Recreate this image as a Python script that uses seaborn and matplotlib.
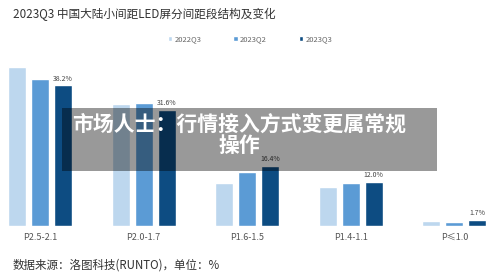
import matplotlib
matplotlib.use("Agg")
import matplotlib.pyplot as plt
import seaborn as sns
import pandas as pd
from matplotlib.patches import Rectangle

categories = ["P2.5-2.1", "P2.0-1.7", "P1.6-1.5", "P1.4-1.1", "P≤1.0"]
series_names = ["2022Q3", "2023Q2", "2023Q3"]
v_2022q3 = [43.2, 33.2, 11.8, 10.7, 1.4]
v_2023q2 = [40.0, 33.5, 14.6, 11.6, 1.0]
v_2023q3 = [38.2, 31.6, 16.4, 12.0, 1.7]
labels_2023q3 = ["38.2%", "31.6%", "16.4%", "12.0%", "1.7%"]

title = "2023Q3 中国大陆小间距LED屏分间距段结构及变化"
source = "数据来源：洛图科技(RUNTO)，单位：%"
banner = "市场人士：行情接入方式变更属常规\n操作"

df = pd.DataFrame({
    "cat": categories * 3,
    "series": [s for s in series_names for _ in categories],
    "val": v_2022q3 + v_2023q2 + v_2023q3,
})

sns.set_theme(style="white")
plt.rcParams["font.family"] = ["Noto Sans CJK SC", "DejaVu Sans"]

palette = {"2022Q3": "#bdd7ee", "2023Q2": "#5b9bd5", "2023Q3": "#0d4c82"}

fig = plt.figure(figsize=(5, 2.8), dpi=100)
ax = fig.add_axes([0, (280 - 226) / 280, 1, 170 / 280])
sns.barplot(data=df, x="cat", y="val", hue="series", palette=palette,
            width=0.666, gap=0.217, ax=ax, saturation=1, legend=True)
ax.set_xlim(-40 / 103.6, 460 / 103.6)
ax.set_ylim(0, 46.2)
for s in ax.spines.values():
    s.set_visible(False)
ax.set_yticks([])
ax.set_xlabel("")
ax.set_ylabel("")
ax.tick_params(axis="x", length=0, pad=5, labelsize=6.5, labelcolor="#555555")

# value labels on 2023Q3 bars
dark = ax.containers[2]
ax.bar_label(dark, labels=labels_2023q3, padding=2, fontsize=5, color="#444444")

handles, lbls = ax.get_legend_handles_labels()
ax.legend(handles, lbls, ncol=3, frameon=False, loc="center",
          bbox_to_anchor=(250 / 500, 1 - 39 / 280), bbox_transform=fig.transFigure,
          fontsize=5.5, handlelength=0.55, handleheight=0.55, handletextpad=0.3,
          columnspacing=4.2, labelcolor="#666666")

fig.text(13 / 500, 1 - 14 / 280, title, fontsize=8.4, color="#333333", va="center", ha="left")
fig.text(13 / 500, 1 - 265 / 280, source, fontsize=8.3, color="#333333", va="center", ha="left")

fig.patches.append(Rectangle((62 / 500, (280 - 171) / 280), 375 / 500, 63 / 280,
                             transform=fig.transFigure, facecolor="#000000",
                             alpha=0.4, edgecolor="none", zorder=5))
fig.text(239 / 500, 1 - 134.5 / 280, banner, fontsize=15, fontweight="bold",
         color="white", ha="center", va="center", linespacing=1.0, zorder=6)

fig.savefig("out.png", dpi=100)
